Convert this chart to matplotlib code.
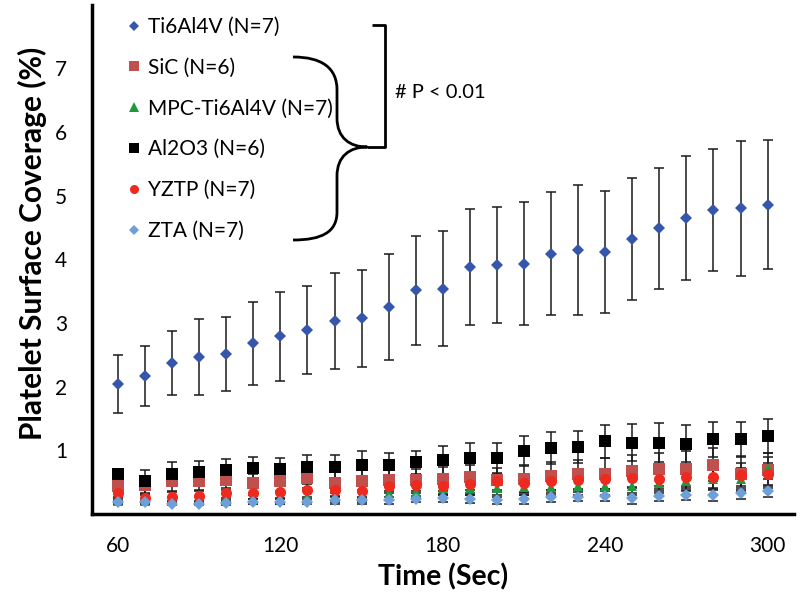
"""
Platelet surface coverage vs time, six materials, mean +/- SD
"""
import numpy as np
import matplotlib
matplotlib.use('Agg')
import matplotlib.pyplot as plt
from matplotlib.lines import Line2D
from matplotlib.path import Path
from matplotlib.patches import PathPatch
from matplotlib.transforms import Affine2D

plt.rcParams['font.family'] = ['Lato', 'DejaVu Sans']

# ===== data =====
time_s = [60, 70, 80, 90, 100, 110, 120, 130, 140, 150, 160, 170, 180,
          190, 200, 210, 220, 230, 240, 250, 260, 270, 280, 290, 300]

ti_mean = [2.04, 2.16, 2.37, 2.46, 2.51, 2.68, 2.79, 2.89, 3.03, 3.07, 3.25, 3.51, 3.54,
           3.88, 3.91, 3.93, 4.09, 4.15, 4.12, 4.32, 4.49, 4.65, 4.77, 4.80, 4.86]
ti_sd = [0.45, 0.47, 0.50, 0.60, 0.58, 0.65, 0.70, 0.69, 0.75, 0.76, 0.83, 0.86, 0.91,
         0.91, 0.91, 0.97, 0.96, 1.02, 0.96, 0.96, 0.95, 0.97, 0.96, 1.06, 1.01]

sic_mean = [0.43, 0.45, 0.51, 0.51, 0.53, 0.48, 0.51, 0.56, 0.49, 0.51, 0.53, 0.53, 0.55,
            0.57, 0.53, 0.55, 0.60, 0.62, 0.63, 0.67, 0.70, 0.71, 0.77, 0.63, 0.68]
sic_sd = [0.12, 0.15, 0.15, 0.14, 0.16, 0.15, 0.16, 0.15, 0.17, 0.17, 0.18, 0.18, 0.19,
          0.20, 0.19, 0.22, 0.22, 0.23, 0.24, 0.25, 0.26, 0.27, 0.26, 0.28, 0.28]

mpc_mean = [0.20, 0.20, 0.21, 0.22, 0.25, 0.23, 0.24, 0.27, 0.28, 0.28, 0.32, 0.34, 0.40,
            0.41, 0.41, 0.42, 0.42, 0.43, 0.44, 0.44, 0.48, 0.52, 0.55, 0.55, 0.72]
mpc_sd = [0.05, 0.05, 0.06, 0.06, 0.07, 0.07, 0.08, 0.08, 0.09, 0.09, 0.10, 0.10, 0.11,
          0.12, 0.12, 0.13, 0.13, 0.14, 0.14, 0.15, 0.15, 0.16, 0.16, 0.17, 0.18]

al_mean = [0.63, 0.51, 0.63, 0.66, 0.68, 0.72, 0.70, 0.73, 0.73, 0.77, 0.77, 0.81, 0.85,
           0.88, 0.87, 0.99, 1.03, 1.05, 1.14, 1.12, 1.12, 1.10, 1.17, 1.17, 1.22]
al_sd = [0.08, 0.18, 0.19, 0.17, 0.18, 0.18, 0.18, 0.20, 0.20, 0.21, 0.19, 0.18, 0.22,
         0.23, 0.24, 0.24, 0.25, 0.25, 0.26, 0.29, 0.30, 0.29, 0.28, 0.28, 0.27]

yztp_mean = [0.32, 0.24, 0.27, 0.28, 0.33, 0.32, 0.34, 0.37, 0.38, 0.36, 0.43, 0.45, 0.43,
             0.46, 0.51, 0.48, 0.51, 0.53, 0.54, 0.56, 0.55, 0.57, 0.58, 0.61, 0.62]
yztp_sd = [0.06, 0.07, 0.07, 0.08, 0.08, 0.09, 0.09, 0.10, 0.10, 0.11, 0.11, 0.12, 0.12,
           0.13, 0.13, 0.14, 0.14, 0.15, 0.15, 0.16, 0.16, 0.17, 0.17, 0.18, 0.18]

zta_mean = [0.19, 0.18, 0.16, 0.16, 0.17, 0.19, 0.19, 0.19, 0.21, 0.21, 0.21, 0.23, 0.24,
            0.23, 0.21, 0.23, 0.26, 0.27, 0.28, 0.24, 0.28, 0.29, 0.29, 0.32, 0.36]
zta_sd = [0.03, 0.03, 0.03, 0.03, 0.04, 0.04, 0.04, 0.04, 0.05, 0.05, 0.05, 0.05, 0.06,
          0.06, 0.06, 0.07, 0.07, 0.07, 0.08, 0.08, 0.08, 0.08, 0.09, 0.09, 0.09]

labels = ['Ti6Al4V (N=7)', 'SiC (N=6)', 'MPC-Ti6Al4V (N=7)',
          'Al2O3 (N=6)', 'YZTP (N=7)', 'ZTA (N=7)']
xticks = [60, 120, 180, 240, 300]
yticks = [1, 2, 3, 4, 5, 6, 7]

# (mean, sd, colour, marker, size)
series = [
    (ti_mean, ti_sd, '#3556AA', 'D', 6.5),
    (sic_mean, sic_sd, '#C0504D', 's', 8),
    (mpc_mean, mpc_sd, '#1E9A3C', '^', 7),
    (al_mean, al_sd, '#000000', 's', 8),
    (yztp_mean, yztp_sd, '#EE2A1E', 'o', 8),
    (zta_mean, zta_sd, '#6E9FD9', 'D', 6.5),
]

fig = plt.figure(figsize=(8, 6.03), dpi=100)
ax = fig.add_axes([0.115, 0.148, 0.877, 0.844])

handles = []
for (m, sd, c, mk, ms), lab in zip(series, labels):
    ax.errorbar(time_s, m, yerr=sd, fmt='none', ecolor='#1a1a1a',
                elinewidth=1.1, capsize=3.5, capthick=1.1, zorder=2)
    ax.plot(time_s, m, linestyle='none', marker=mk, ms=ms, color=c,
            markeredgewidth=0, zorder=3)
    if mk == 'D':
        # the diamonds look star-like in the original
        ax.plot(time_s, m, linestyle='none', marker='s', ms=ms * 0.75, color=c,
                markeredgewidth=0, zorder=3)
    handles.append(Line2D([], [], linestyle='none', marker=mk, color=c,
                          ms=6.5 if mk != 'D' else 5.5, markeredgewidth=0, label=lab))

ax.set_xlim(50.4, 309.6)
ax.set_ylim(0, 8)
ax.set_xticks(xticks)
ax.set_yticks(yticks)
ax.tick_params(axis='both', length=0, labelsize=15)
ax.tick_params(axis='x', pad=16)
ax.tick_params(axis='y', pad=18)
for s in ['top', 'right']:
    ax.spines[s].set_visible(False)
ax.spines['left'].set_linewidth(2.5)
ax.spines['bottom'].set_linewidth(2.5)

ax.set_xlabel('Time (Sec)', fontsize=20.5, fontweight='bold', labelpad=5)
ax.set_ylabel('Platelet Surface Coverage (%)', fontsize=21.5, fontweight='bold')
ax.yaxis.set_label_coords(-0.064, 0.532)

leg = fig.legend(handles=handles, loc='upper left', bbox_to_anchor=(0.14, 0.998),
                 frameon=False, fontsize=15, labelspacing=1.0, handlelength=0.6,
                 handletextpad=0.4, borderpad=0.25)

# bracket + brace, in image pixel coords (y down)
px = Affine2D().scale(1 / 800, -1 / 603).translate(0, 1) + fig.transFigure
sq = Path([(372, 25), (385, 25), (385, 147), (367, 147)],
          [Path.MOVETO, Path.LINETO, Path.LINETO, Path.LINETO])
brace = Path([(293, 57), (322, 57), (337, 68), (337, 90),
              (337, 118),
              (337, 138), (350, 147), (367, 147),
              (350, 147), (337, 156), (337, 176),
              (337, 212),
              (337, 232), (322, 240), (293, 240)],
             [Path.MOVETO, Path.CURVE4, Path.CURVE4, Path.CURVE4,
              Path.LINETO,
              Path.CURVE4, Path.CURVE4, Path.CURVE4,
              Path.CURVE4, Path.CURVE4, Path.CURVE4,
              Path.LINETO,
              Path.CURVE4, Path.CURVE4, Path.CURVE4])
for p in (sq, brace):
    fig.patches.append(PathPatch(p, transform=px, fill=False, lw=2.0,
                                 edgecolor='black', joinstyle='round'))
fig.text(395 / 800, 1 - 93 / 603, '# P < 0.01', fontsize=14.5, va='center', ha='left')

plt.savefig('out.png', dpi=100)
plt.close()
